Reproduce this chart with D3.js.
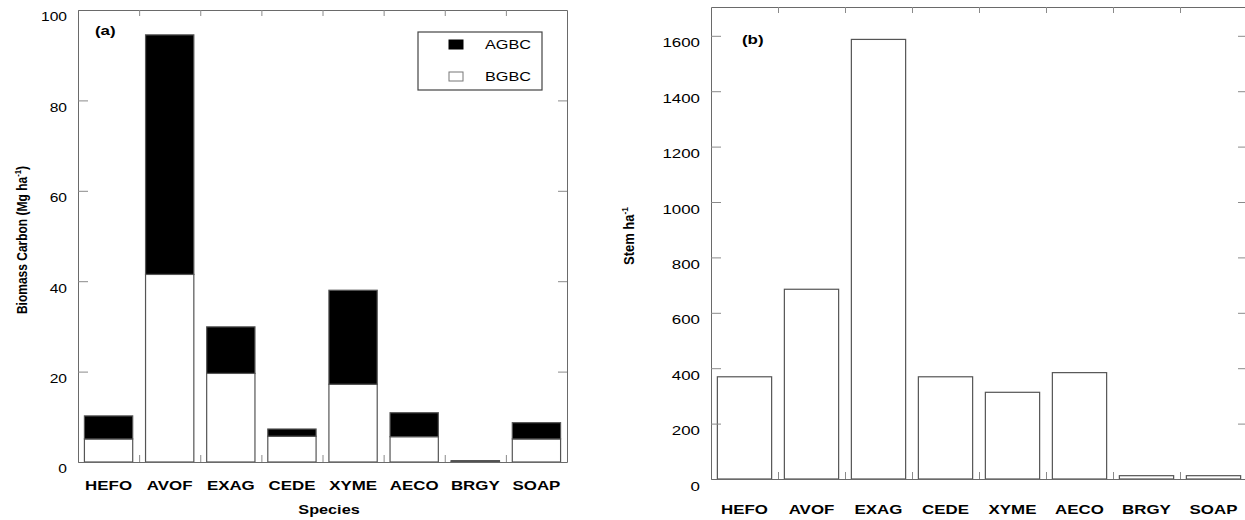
<!DOCTYPE html>
<html>
<head>
<meta charset="utf-8">
<script src="https://cdn.jsdelivr.net/npm/d3@7"></script>
<style>
  body { margin: 0; background: #fff; }
  svg { display: block; font-family: "Liberation Sans", Arial, sans-serif; }
</style>
</head>
<body>
<svg width="1245" height="520"></svg>
<script>
// data
var species = ["HEFO", "AVOF", "EXAG", "CEDE", "XYME", "AECO", "BRGY", "SOAP"];
var bgbc = [5.1, 41.5, 19.6, 5.7, 17.2, 5.6, 0.15, 5.1];   // below ground
var agbc = [5.1, 53.0, 10.3, 1.6, 20.8, 5.3, 0.15, 3.6];   // above ground, stacked on top
var stems = [369, 685, 1587, 369, 313, 384, 12, 12];
var ticksA = [0, 20, 40, 60, 80, 100];
var ticksB = [0, 200, 400, 600, 800, 1000, 1200, 1400, 1600];

var svg = d3.select("svg");
var SX = 1.3; // the original figure is stretched sideways
var FONT = "'Liberation Sans', Arial, sans-serif";
var frameCol = "#6a6a6a", tickCol = "#8a8a8a", barCol = "#555";

function stretch(sel) {
	sel.each(function () {
		var t = d3.select(this);
		var x = +t.attr("x") || 0;
		t.attr("x", x / SX).attr("transform", "scale(" + SX + ",1)");
	});
}

function styleAxis(g) {
	g.attr("font-family", FONT);
	g.selectAll("path.domain").attr("stroke", frameCol);
	g.selectAll(".tick line").attr("stroke", tickCol);
}

// draws the frame, ticks and labels of one panel
function frame(box, y, yTicks, fontY) {
	var n = species.length;
	var idx = d3.scaleLinear().domain([0, n]).range([box.x0, box.x1]);
	var inner = d3.range(1, n);

	// left
	var gl = svg.append("g").attr("transform", "translate(" + box.x0 + ",0)")
		.call(d3.axisLeft(y).tickValues(yTicks).tickFormat(d3.format("d"))
			.tickSize(-10).tickSizeOuter(0).tickPadding(11));
	styleAxis(gl);
	gl.selectAll("text").attr("font-size", fontY).attr("fill", "#000").attr("y", 7);
	stretch(gl.selectAll("text"));

	// right
	var gr = svg.append("g").attr("transform", "translate(" + box.x1 + ",0)")
		.call(d3.axisRight(y).tickValues(yTicks.filter((d) => d > 0 && d < y.domain()[1]))
			.tickSize(-9).tickSizeOuter(0).tickFormat(""));
	styleAxis(gr);

	// top
	var gt = svg.append("g").attr("transform", "translate(0," + box.y0 + ")")
		.call(d3.axisTop(idx).tickValues(inner).tickSize(-6).tickSizeOuter(0).tickFormat(""));
	styleAxis(gt);

	// bottom boundary ticks
	var gb = svg.append("g").attr("transform", "translate(0," + box.y1 + ")")
		.call(d3.axisBottom(idx).tickValues(inner).tickSize(-7).tickSizeOuter(0).tickFormat(""));
	styleAxis(gb);
}

function xLabels(x, ybase) {
	var g = svg.append("g").attr("transform", "translate(0," + ybase + ")")
		.call(d3.axisBottom(x).tickSize(0).tickPadding(0));
	g.attr("font-family", FONT);
	g.select(".domain").remove();
	g.selectAll("text").attr("font-size", 13).attr("font-weight", "bold").attr("fill", "#000")
		.attr("y", 0).attr("dy", 0);
	stretch(g.selectAll("text"));
}

function yTitle(cx, cy, main, sizeMain) {
	var t = svg.append("text")
		.attr("transform", "translate(" + cx + "," + cy + ") rotate(-90) scale(1,1.15)")
		.attr("text-anchor", "middle")
		.attr("font-weight", "bold")
		.attr("font-size", sizeMain);
	t.append("tspan").text(main);
	t.append("tspan").attr("font-size", sizeMain * 0.65).attr("dy", -5).text("-1");
	t.append("tspan").attr("dy", 5).text(main.indexOf("(") >= 0 ? ")" : "");
}

function panelTag(x, y, s) {
	svg.append("text").attr("transform", "translate(" + x + "," + y + ") scale(" + SX + ",1)")
		.attr("font-size", 13).attr("font-weight", "bold").text(s);
}

/* Panel (a) */
var boxA = { x0: 78, x1: 567, y0: 10, y1: 462 };
var xA = d3.scaleBand().domain(species).range([boxA.x0, boxA.x1]).paddingInner(0.21).paddingOuter(0.105);
var yA = d3.scaleLinear().domain([0, 100]).range([boxA.y1, boxA.y0]);

var stackData = species.map((s, i) => ({ name: s, bgbc: bgbc[i], agbc: agbc[i] }));
var series = d3.stack().keys(["bgbc", "agbc"])(stackData);
var fills = { bgbc: "#fff", agbc: "#000" };

svg.append("g").selectAll("g")
	.data(series)
	.enter().append("g")
	.attr("fill", (d) => fills[d.key])
	.selectAll("rect")
	.data((d) => d)
	.enter().append("rect")
	.attr("x", (d) => xA(d.data.name))
	.attr("width", xA.bandwidth())
	.attr("y", (d) => yA(d[1]))
	.attr("height", (d) => yA(d[0]) - yA(d[1]))
	.attr("stroke", barCol)
	.attr("stroke-width", 1.2);

frame(boxA, yA, ticksA, 12);
xLabels(xA, 490);

panelTag(95, 35, "(a)");

svg.append("text").attr("transform", "translate(329,514) scale(" + SX + ",1)")
	.attr("text-anchor", "middle").attr("font-size", 12.5).attr("font-weight", "bold").text("Species");

yTitle(27, 240, "Biomass Carbon (Mg ha", 12);

// legend
var legend = svg.append("g").attr("transform", "translate(418,32)");
legend.append("rect").attr("width", 124).attr("height", 58)
	.attr("fill", "#fff").attr("stroke", "#444").attr("stroke-width", 1.2);
var legItems = [{ key: "agbc", label: "AGBC" }, { key: "bgbc", label: "BGBC" }];
var li = legend.selectAll("g.item").data(legItems).enter().append("g")
	.attr("class", "item")
	.attr("transform", (d, i) => "translate(0," + (i * 32) + ")");
li.append("rect").attr("x", 31).attr("y", 8).attr("width", 14).attr("height", 9)
	.attr("fill", (d) => fills[d.key]).attr("stroke", (d) => d.key == "agbc" ? "#000" : "#777");
li.append("text").attr("transform", "translate(67,17) scale(" + SX + ",1)")
	.attr("font-size", 12.5).text((d) => d.label);

/* Panel (b) */
var boxB = { x0: 711, x1: 1247, y0: 7, y1: 479 };
var xB = d3.scaleBand().domain(species).range([boxB.x0, boxB.x1]).paddingInner(0.19).paddingOuter(0.095);
var yB = d3.scaleLinear().domain([0, 1704]).range([boxB.y1, boxB.y0]);

svg.append("g").selectAll("rect")
	.data(stems)
	.enter().append("rect")
	.attr("x", (d, i) => xB(species[i]))
	.attr("width", xB.bandwidth())
	.attr("y", (d) => yB(d))
	.attr("height", (d) => yB(0) - yB(d))
	.attr("fill", "#fff")
	.attr("stroke", barCol)
	.attr("stroke-width", 1.2);

frame(boxB, yB, ticksB, 13);
xLabels(xB, 514);

panelTag(742, 44, "(b)");

yTitle(634, 236, "Stem ha", 13);
</script>
</body>
</html>
